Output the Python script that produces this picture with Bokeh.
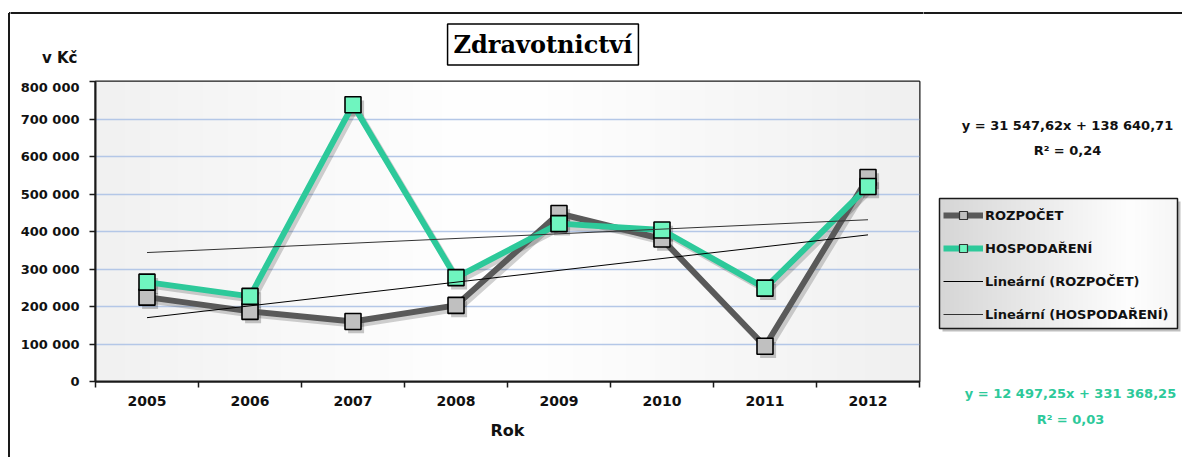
import numpy as np
from bokeh.plotting import figure
from bokeh.layouts import column, row
from bokeh.models import (Range1d, FixedTicker, Legend, LegendItem, Label, ColumnDataSource)
from bokeh.transform import dodge
from bokeh.embed import file_html
from bokeh.resources import INLINE

# ---------------- data ----------------
years = [2005, 2006, 2007, 2008, 2009, 2010, 2011, 2012]
year_labels = ["2005", "2006", "2007", "2008", "2009", "2010", "2011", "2012"]
rozpocet = [225000, 187000, 160000, 203000, 448000, 380000, 94000, 544000]
hospodareni = [265000, 227000, 738000, 277000, 421000, 404000, 249000, 520000]
y_ticks = [0, 100000, 200000, 300000, 400000, 500000, 600000, 700000, 800000]
y_tick_labels = ["0", "100 000", "200 000", "300 000", "400 000", "500 000",
                 "600 000", "700 000", "800 000"]
# linear trend coefficients (x = 1..8), as printed on the chart
trend_rozpocet = [31547.62, 138640.71]
trend_hospodareni = [12497.25, 331368.25]
eq_rozpocet = ["y = 31 547,62x + 138 640,71", "R² = 0,24"]
eq_hospodareni = ["y = 12 497,25x + 331 368,25", "R² = 0,03"]
series_names = ["ROZPOČET", "HOSPODAŘENÍ", "Lineární (ROZPOČET)", "Lineární (HOSPODAŘENÍ)"]
title_text = "Zdravotnictví"
y_title = "v Kč"
x_title = "Rok"

GRAY_LINE = "#595959"
GRAY_FILL = "#C0C0C0"
GREEN_LINE = "#2DC99A"
GREEN_FILL = "#6FF5BF"
FONT = "DejaVu Sans"
INK = "#111111"
BORDER = "#1a1a1a"

W, H = 1182, 457
TOP_H = 79
STRIP_W = 10
MAIN_LEFT, FRAME_W, MAIN_RIGHT = 85, 824, 4
MAIN_TOP, FRAME_H, MAIN_BOTTOM = 2, 300, 76
MAIN_W = MAIN_LEFT + FRAME_W + MAIN_RIGHT
MAIN_H = MAIN_TOP + FRAME_H + MAIN_BOTTOM
RIGHT_X0 = STRIP_W + MAIN_W
RIGHT_W = W - RIGHT_X0
BORDER_X, BORDER_Y = 8.5, 12.5


def gradient(stops, n=200):
    """horizontal grey gradient image, stops = [(t, grey), ...]"""
    t = np.linspace(0, 1, n)
    ts, gs = zip(*stops)
    g = np.interp(t, ts, gs).astype(np.uint8)
    img = np.zeros((1, n), dtype=np.uint32)
    v = img.view(dtype=np.uint8).reshape((1, n, 4))
    v[0, :, 0] = g
    v[0, :, 1] = g
    v[0, :, 2] = g
    v[0, :, 3] = 255
    return img


def pixel_fig(width, height, x0, y0):
    """a blank figure whose data coordinates equal page pixels"""
    f = figure(width=width, height=height, output_backend="svg", toolbar_location=None,
               x_range=Range1d(x0, x0 + width), y_range=Range1d(y0 + height, y0),
               min_border=0, x_axis_type=None, y_axis_type=None)
    f.grid.grid_line_color = None
    f.outline_line_color = None
    f.background_fill_color = "white"
    f.border_fill_color = "white"
    return f


# ---------------- left strip (outer border) ----------------
strip = pixel_fig(STRIP_W, H, 0, 0)
strip.segment(x0=[BORDER_X, BORDER_X], y0=[BORDER_Y, BORDER_Y], x1=[STRIP_W + 2, BORDER_X],
              y1=[BORDER_Y, H + 5], line_color=BORDER, line_width=2)

# ---------------- top strip: title, y unit ----------------
top = pixel_fig(MAIN_W, TOP_H, STRIP_W, 0)
top.segment(x0=[STRIP_W - 2], y0=[BORDER_Y], x1=[RIGHT_X0 + 2], y1=[BORDER_Y],
            line_color=BORDER, line_width=2)
top.add_layout(Label(x=545.5, y=47, text=title_text, text_align="center",
                     text_baseline="middle", text_font="DejaVu Serif",
                     text_font_style="bold", text_font_size="24px", text_alpha=0,
                     background_fill_color="#7a7a7a", background_fill_alpha=0.45, padding=6))
top.add_layout(Label(x=542.5, y=44, text=title_text, text_align="center",
                     text_baseline="middle", text_font="DejaVu Serif",
                     text_font_style="bold", text_font_size="24px", text_color="black",
                     background_fill_color="white", border_line_color="black",
                     border_line_width=1.5, padding=6))
top.add_layout(Label(x=77, y=57, text=y_title, text_align="right", text_baseline="middle",
                     text_font=FONT, text_font_style="bold", text_font_size="15px",
                     text_color=INK))

# ---------------- main chart ----------------
p = figure(width=MAIN_W, height=MAIN_H, output_backend="svg", toolbar_location=None,
           x_range=Range1d(years[0] - 0.5, years[-1] + 0.5),
           y_range=Range1d(y_ticks[0], y_ticks[-1]),
           min_border_left=MAIN_LEFT, min_border_right=MAIN_RIGHT,
           min_border_top=MAIN_TOP, min_border_bottom=MAIN_BOTTOM)
p.background_fill_color = "#F7F7F7"
p.border_fill_color = "white"
p.outline_line_color = BORDER
p.outline_line_width = 2

p.image_rgba(image=[gradient([(0, 241), (0.45, 255), (0.55, 254), (1, 240)])],
             x=years[0] - 0.5, y=y_ticks[0], dw=len(years), dh=y_ticks[-1] - y_ticks[0],
             level="image")

p.xaxis.ticker = FixedTicker(ticks=years, minor_ticks=[y - 0.5 for y in years] + [years[-1] + 0.5])
p.xaxis.major_label_overrides = {y: l for y, l in zip(years, year_labels)}
p.xaxis.major_tick_line_color = None
p.xaxis.minor_tick_line_color = BORDER
p.xaxis.minor_tick_out = 6
p.xaxis.minor_tick_in = 0
p.xaxis.minor_tick_line_width = 1.5
p.xaxis.major_label_standoff = 8
p.xaxis.major_label_text_font = FONT
p.xaxis.major_label_text_font_style = "bold"
p.xaxis.major_label_text_font_size = "14px"
p.xaxis.major_label_text_color = INK
p.xaxis.axis_line_width = 2
p.xaxis.axis_line_color = BORDER
p.xaxis.axis_label = x_title
p.xaxis.axis_label_text_font = FONT
p.xaxis.axis_label_text_font_style = "bold"
p.xaxis.axis_label_text_font_size = "16px"
p.xaxis.axis_label_text_color = INK
p.xaxis.axis_label_standoff = 12

p.yaxis.ticker = FixedTicker(ticks=y_ticks, minor_ticks=[])
p.yaxis.major_label_overrides = {v: l for v, l in zip(y_ticks, y_tick_labels)}
p.yaxis.major_tick_out = 6
p.yaxis.major_tick_in = 0
p.yaxis.major_tick_line_width = 1.5
p.yaxis.major_tick_line_color = BORDER
p.yaxis.major_label_standoff = 10
p.yaxis.major_label_text_font = FONT
p.yaxis.major_label_text_font_style = "bold"
p.yaxis.major_label_text_font_size = "13px"
p.yaxis.major_label_text_color = INK
p.yaxis.axis_line_width = 2
p.yaxis.axis_line_color = BORDER

p.xgrid.grid_line_color = None
p.ygrid.grid_line_color = "#B4C7E7"
p.ygrid.grid_line_width = 1.6

src = ColumnDataSource(dict(x=years, roz=rozpocet, hos=hospodareni))

# soft shadows
for col in ["roz", "hos"]:
    p.line(x=dodge("x", 0.028), y=dodge(col, -9000), source=src,
           line_color="black", line_alpha=0.18, line_width=6)
    p.scatter(x=dodge("x", 0.03), y=dodge(col, -10000), source=src, marker="square",
              size=16, fill_color="black", fill_alpha=0.22, line_color=None)

r_line = p.line(x="x", y="roz", source=src, line_color=GRAY_LINE, line_width=6)
r_pts = p.scatter(x="x", y="roz", source=src, marker="square", size=16,
                  fill_color=GRAY_FILL, line_color="black", line_width=1.6)
h_line = p.line(x="x", y="hos", source=src, line_color=GREEN_LINE, line_width=6)
h_pts = p.scatter(x="x", y="hos", source=src, marker="square", size=16,
                  fill_color=GREEN_FILL, line_color="black", line_width=1.6)

# trend lines from printed coefficients (x index 1..8)
idx = [1, len(years)]
tr_x = [years[0], years[-1]]
tr_r = [trend_rozpocet[0] * i + trend_rozpocet[1] for i in idx]
tr_h = [trend_hospodareni[0] * i + trend_hospodareni[1] for i in idx]
t_r = p.line(tr_x, tr_r, line_color="black", line_width=1)
t_h = p.line(tr_x, tr_h, line_color="#333333", line_width=1)

# ---------------- right side: equations and legend ----------------
side = pixel_fig(RIGHT_W, H, RIGHT_X0, 0)
side.segment(x0=[RIGHT_X0 - 2], y0=[BORDER_Y], x1=[W + 5], y1=[BORDER_Y],
             line_color=BORDER, line_width=2)
LX0, LX1, LY0, LY1 = 939, 1177, 198, 328
side.quad(left=LX0 + 3, right=LX1 + 3, top=LY0 + 3, bottom=LY1 + 3,
          fill_color="black", fill_alpha=0.25, line_color=None)
side.image_rgba(image=[gradient([(0, 214), (0.8, 254), (1, 246)])],
                x=LX0, y=LY0, dw=LX1 - LX0, dh=LY1 - LY0)
side.quad(left=LX0, right=LX1, top=LY0, bottom=LY1, fill_alpha=0,
          line_color=BORDER, line_width=1.5)

# proxy renderers (outside the visible range) for the legend glyphs
lr = side.line([0, 1], [0, 1], line_color=GRAY_LINE, line_width=6)
ls = side.scatter([0], [0], marker="square", size=12, fill_color=GRAY_FILL,
                  line_color="#333333", line_width=1.2)
lh = side.line([0, 1], [0, 1], line_color=GREEN_LINE, line_width=6)
lhs = side.scatter([0], [0], marker="square", size=12, fill_color=GREEN_FILL,
                   line_color="#333333", line_width=1.2)
ltr = side.line([0, 1], [0, 1], line_color="black", line_width=1)
lth = side.line([0, 1], [0, 1], line_color="#333333", line_width=1)

legend = Legend(items=[
    LegendItem(label=series_names[0], renderers=[lr, ls]),
    LegendItem(label=series_names[1], renderers=[lh, lhs]),
    LegendItem(label=series_names[2], renderers=[ltr]),
    LegendItem(label=series_names[3], renderers=[lth]),
], location=(LX0 - RIGHT_X0 + 4, H - LY1 + 4))
legend.glyph_width = 40
legend.glyph_height = 20
legend.label_height = 20
legend.spacing = 13
legend.padding = 7
legend.margin = 0
legend.label_standoff = 2
legend.label_text_font = FONT
legend.label_text_font_style = "bold"
legend.label_text_font_size = "13px"
legend.label_text_color = INK
legend.border_line_color = None
legend.background_fill_alpha = 0
side.add_layout(legend)

for i, txt in enumerate(eq_rozpocet):
    side.add_layout(Label(x=1067, y=125 + 25 * i, text=txt, text_align="center",
                          text_baseline="middle", text_font=FONT, text_font_style="bold",
                          text_font_size="13px", text_color=INK))
for i, txt in enumerate(eq_hospodareni):
    side.add_layout(Label(x=1070, y=393 + 26 * i, text=txt, text_align="center",
                          text_baseline="middle", text_font=FONT, text_font_style="bold",
                          text_font_size="13px", text_color=GREEN_LINE))

layout = row(strip, column(row(top, spacing=0), row(p, spacing=0), spacing=0), side, spacing=0)
open("out.html", "w").write(file_html(layout, INLINE))
